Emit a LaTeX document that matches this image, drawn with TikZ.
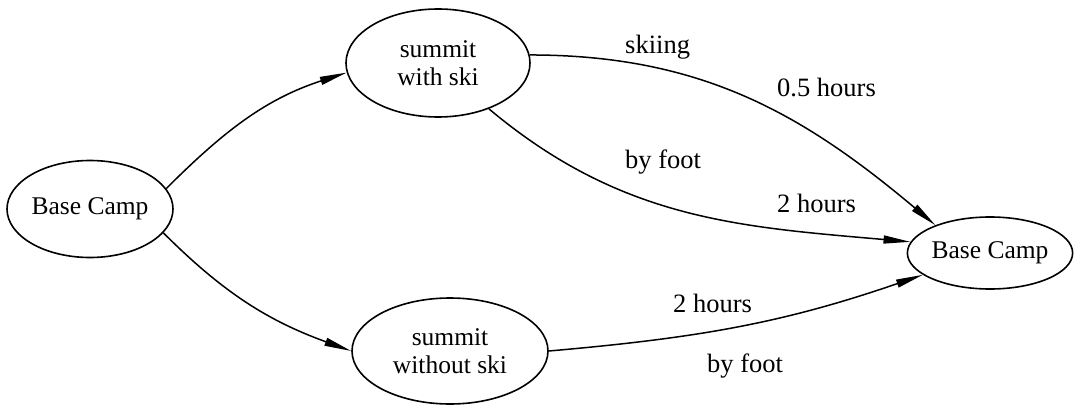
\documentclass[tikz,border=0pt]{standalone}
\usepackage{fontspec}
\setmainfont{Liberation Serif}
\usetikzlibrary{shapes.geometric,arrows.meta}
\begin{document}
\begin{tikzpicture}[x=1pt,y=-1pt,
  place/.style={draw,ellipse,line width=1.6pt,inner sep=0pt,align=center,
    font=\fontsize{25.5}{28}\selectfont},
  conn/.style={line width=1.5pt,-{Triangle[length=27pt,width=8pt]}},
  lbl/.style={anchor=base west,inner sep=0pt,font=\fontsize{26.5}{28}\selectfont}]
\useasboundingbox (0,0) rectangle (1078,409);
\node[place,minimum width=166pt,minimum height=97pt] (bc1) at (90,209) {Base Camp};
\node[place,minimum width=184pt,minimum height=108pt] (sws) at (438,63) {summit\\with ski};
\node[place,minimum width=196pt,minimum height=106pt] (swo) at (450,351) {summit\\without ski};
\node[place,minimum width=165pt,minimum height=72pt] (bc2) at (990,253) {Base Camp};
\draw[conn] (bc1.15) to[out=45,in=198] (sws.186);
\draw[conn] (bc1.-18) to[out=-45,in=160] (swo.180);
\draw[conn] (sws.5) to[out=0,in=140] (bc2.153);
\draw[conn] (sws.-42) to[out=-40,in=175] (bc2.172);
\draw[conn] (swo.0) to[out=5,in=199] (bc2.198);
\node[lbl] (l1) at (625,54) {skiing};
\node[lbl] (l2) at (777,97) {0.5 hours};
\node[lbl] (l3) at (625,168) {by foot};
\node[lbl] (l4) at (777,212) {2 hours};
\node[lbl] (l5) at (673,312) {2 hours};
\node[lbl] (l6) at (707,372) {by foot};
\end{tikzpicture}
\end{document}
